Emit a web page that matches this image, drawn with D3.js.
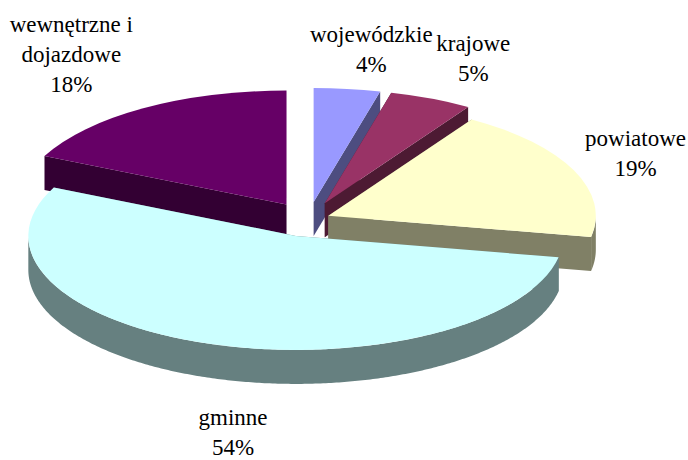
<!DOCTYPE html>
<html><head><meta charset="utf-8">
<script src="https://cdn.jsdelivr.net/npm/d3@7/dist/d3.min.js"></script>
<style>html,body{margin:0;padding:0;background:#fff}svg{display:block}text{font-family:"Liberation Serif",serif;font-size:23px;fill:#000;text-anchor:middle}</style>
</head><body><svg id="c" width="688" height="460"></svg>
<script>
const categories = ["wojewódzkie", "krajowe", "powiatowe", "gminne", "wewnętrzne i dojazdowe"];
const values = [4, 5, 19, 54, 18];
const valueLabels = ["4%", "5%", "19%", "54%", "18%"];
const topColors = ["#9999ff", "#993366", "#ffffcc", "#ccffff", "#660066"];
const sideColors = ["#4d4d80", "#4d1a33", "#808066", "#668080", "#330033"];
const explosion = [41, 41, 21.6, 41, 41];
const labelLines = [["wojewódzkie"], ["krajowe"], ["powiatowe"], ["gminne"], ["wewnętrzne i", "dojazdowe"]];
const labelAnchors = [[371.3, 42], [473.3, 51], [635.5, 146], [233, 425], [71.3, 32]];
const labelStep = 30;

const cx = 308.5, cy = 219.3, rx = 267.5, ry = 114, depth = 34, k = ry / rx;
const svg = d3.select("#c");
const arcs = d3.pie().sort(null).startAngle(0).endAngle(2 * Math.PI)(values);
const sector = d3.arc().innerRadius(0).outerRadius(rx);
const line = d3.line();
const order = [4, 0, 1, 2, 3];

function pt(a, ox, oy) { return [ox + rx * Math.sin(a), oy - ry * Math.cos(a)]; }

order.forEach(i => {
  const d = arcs[i];
  const mid = (d.startAngle + d.endAngle) / 2;
  const ox = cx + explosion[i] * Math.sin(mid);
  const oy = cy - explosion[i] * k * Math.cos(mid);
  const g = svg.append("g").attr("class", "slice");
  // radial walls
  [d.startAngle, d.endAngle].forEach(a => {
    const p = pt(a, ox, oy);
    g.append("path").attr("fill", sideColors[i])
      .attr("d", line([[ox, oy], p, [p[0], p[1] + depth], [ox, oy + depth]]) + "Z");
  });
  // outer wall: only the front half of the rim
  const a0 = Math.max(d.startAngle, Math.PI / 2), a1 = Math.min(d.endAngle, 3 * Math.PI / 2);
  if (a1 > a0) {
    const angles = d3.range(a0, a1, 0.01).concat([a1]);
    const upper = angles.map(a => pt(a, ox, oy));
    const lower = upper.map(p => [p[0], p[1] + depth]).reverse();
    g.append("path").attr("fill", sideColors[i]).attr("d", line(upper.concat(lower)) + "Z");
  }
  g.append("path").attr("fill", topColors[i])
    .attr("transform", `translate(${ox},${oy}) scale(1,${k})`)
    .attr("d", sector(d));
});

categories.forEach((c, i) => {
  const lines = labelLines[i].concat([valueLabels[i]]);
  const t = svg.append("text").attr("aria-label", c);
  lines.forEach((s, j) => t.append("tspan").attr("x", labelAnchors[i][0]).attr("y", labelAnchors[i][1] + j * labelStep).text(s));
});
</script></body></html>
